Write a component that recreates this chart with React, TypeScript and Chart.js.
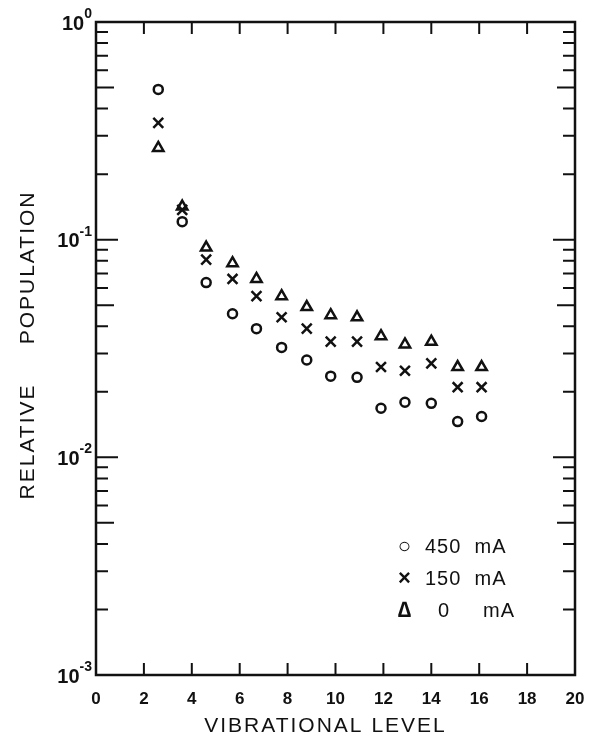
import { useEffect, useRef } from "react";
import { Chart, registerables } from "chart.js";

Chart.register(...registerables);

const levels = [2.6, 3.6, 4.6, 5.7, 6.7, 7.75, 8.8, 9.8, 10.9, 11.9, 12.9, 14.0, 15.1, 16.1];
const pop450 = [0.49, 0.121, 0.0635, 0.0457, 0.039, 0.032, 0.028, 0.0236, 0.0233, 0.0168, 0.0179, 0.0177, 0.0146, 0.0154];
const pop150 = [0.344, 0.137, 0.081, 0.066, 0.055, 0.044, 0.039, 0.034, 0.034, 0.026, 0.025, 0.027, 0.021, 0.021];
const pop0 = [0.264, 0.142, 0.092, 0.078, 0.066, 0.055, 0.049, 0.045, 0.044, 0.036, 0.033, 0.034, 0.026, 0.026];
const xTicks = [0, 2, 4, 6, 8, 10, 12, 14, 16, 18, 20];
const decades = [0, -1, -2, -3];

const FONT = "'Liberation Sans', 'DejaVu Sans', sans-serif";

const frame = {
  id: "frame",
  afterDraw(chart: Chart) {
    const { ctx, chartArea: a, scales } = chart;
    const x = scales.x, y = scales.y;
    ctx.save();
    ctx.strokeStyle = "#111";
    ctx.fillStyle = "#111";
    ctx.lineWidth = 2.5;
    ctx.strokeRect(a.left, a.top, a.right - a.left, a.bottom - a.top);
    ctx.lineWidth = 2;
    ctx.beginPath();
    xTicks.slice(1, -1).forEach((t) => {
      const px = x.getPixelForValue(t);
      ctx.moveTo(px, a.bottom); ctx.lineTo(px, a.bottom - 12);
      ctx.moveTo(px, a.top); ctx.lineTo(px, a.top + 12);
    });
    for (let d = -3; d < 0; d++) {
      for (let m = 1; m <= 9; m++) {
        const py = y.getPixelForValue(m * Math.pow(10, d));
        const len = m === 1 ? 22 : m === 5 ? 18 : 12;
        ctx.moveTo(a.left, py); ctx.lineTo(a.left + len, py);
        ctx.moveTo(a.right, py); ctx.lineTo(a.right - len, py);
      }
    }
    ctx.stroke();
    ctx.font = `bold 17px ${FONT}`;
    ctx.textAlign = "center";
    ctx.textBaseline = "top";
    xTicks.forEach((t) => ctx.fillText(String(t), x.getPixelForValue(t), a.bottom + 16));
    decades.forEach((d) => {
      const py = y.getPixelForValue(Math.pow(10, d));
      ctx.textAlign = "right";
      ctx.textBaseline = "middle";
      const sup = String(d);
      ctx.font = `bold 14px ${FONT}`;
      const sw = ctx.measureText(sup).width;
      ctx.fillText(sup, a.left - 4, py - 8);
      ctx.font = `bold 20px ${FONT}`;
      ctx.fillText("10", a.left - 4 - sw, py + 2);
    });
    ctx.font = `21px ${FONT}`;
    ctx.textAlign = "center";
    ctx.textBaseline = "middle";
    (ctx as any).letterSpacing = "2px";
    ctx.fillText("VIBRATIONAL LEVEL", (a.left + a.right) / 2 - 10, 726);
    ctx.translate(28, 345);
    ctx.rotate(-Math.PI / 2);
    ctx.fillText("RELATIVE     POPULATION", 0, 0);
    ctx.restore();
  },
};

export default function App() {
  const canvasRef = useRef<HTMLCanvasElement>(null);
  const chartRef = useRef<Chart | null>(null);

  useEffect(() => {
    document.body.style.margin = "0";
    if (!canvasRef.current) return;
    chartRef.current?.destroy();
    const mk = (label: string, data: number[], style: any, r: number) => ({
      label,
      data: levels.map((v, i) => ({ x: v, y: data[i] })),
      pointStyle: style,
      pointRadius: r,
      borderColor: "#111",
      backgroundColor: "rgba(0,0,0,0)",
      pointBorderWidth: 2.5,
      showLine: false,
    });
    chartRef.current = new Chart(canvasRef.current, {
      type: "scatter",
      data: {
        datasets: [
          mk("450 mA", pop450, "circle", 4.5),
          mk("150 mA", pop150, "crossRot", 7),
          mk("0 mA", pop0, "triangle", 6),
        ],
      },
      options: {
        animation: false,
        responsive: false,
        layout: { padding: { left: 96, right: 35, top: 22, bottom: 72 } },
        plugins: { legend: { display: false }, tooltip: { enabled: false } },
        scales: {
          x: { type: "linear", min: 0, max: 20, display: false },
          y: { type: "logarithmic", min: 0.001, max: 1, display: false },
        },
      },
      plugins: [frame],
    });
    return () => { chartRef.current?.destroy(); };
  }, []);

  const row = { display: "flex", alignItems: "center", height: 32 } as const;
  const sym = { width: 40, textAlign: "center", fontSize: 22, fontWeight: "bold" } as const;
  return (
    <div style={{ position: "relative", width: 610, height: 747, background: "#fff" }}>
      <canvas ref={canvasRef} width={610} height={747} />
      <div style={{ position: "absolute", left: 385, top: 530, fontFamily: FONT, fontSize: 20, color: "#111", letterSpacing: 1 }}>
        <div style={row}><span style={sym}>○</span><span>450&nbsp;&nbsp;mA</span></div>
        <div style={row}><span style={sym}>×</span><span>150&nbsp;&nbsp;mA</span></div>
        <div style={row}><span style={sym}>∆</span><span>&nbsp;&nbsp;0&nbsp;&nbsp;&nbsp;&nbsp;&nbsp;mA</span></div>
      </div>
    </div>
  );
}
